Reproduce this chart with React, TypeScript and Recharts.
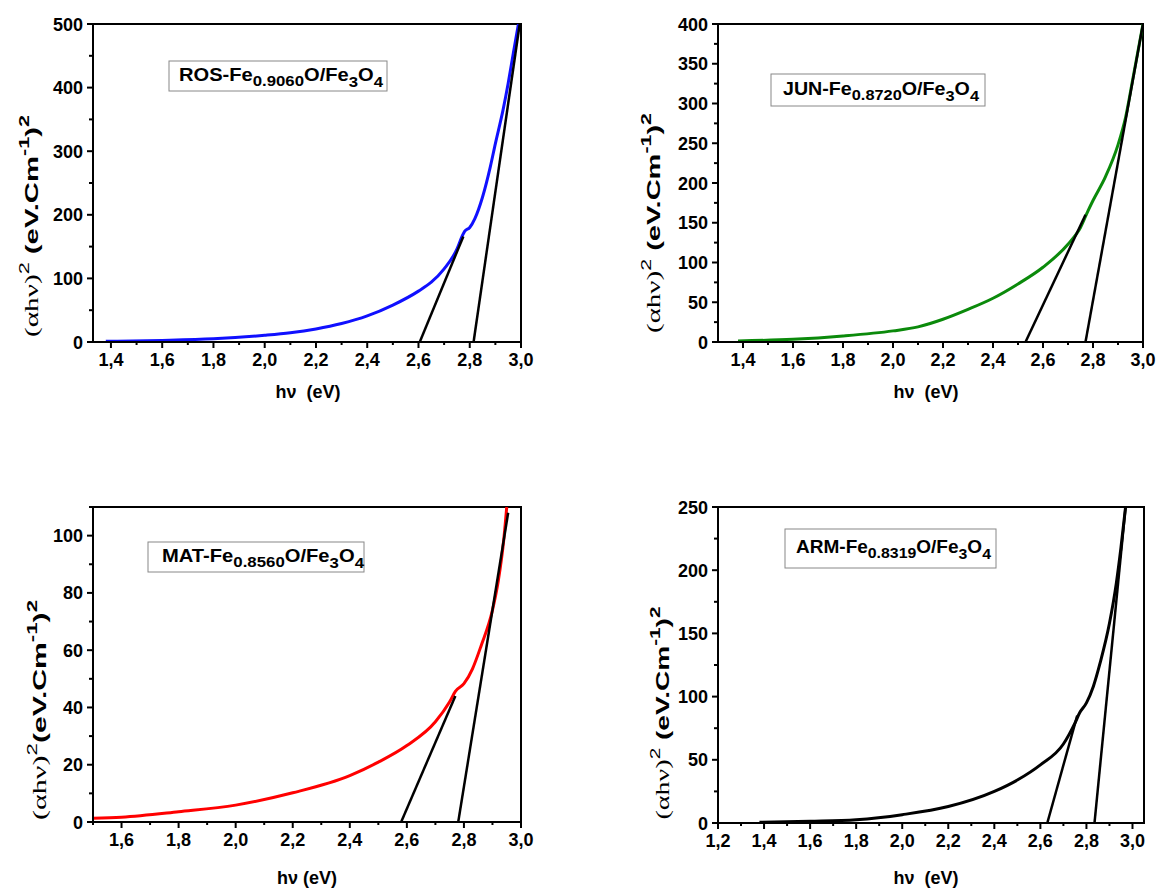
import React from 'react'
import { LineChart, Line, XAxis, YAxis, ReferenceArea } from 'recharts'

// hv (eV) / (alpha h v)^2
const rosX = [1.38, 1.6, 1.8, 2.0, 2.1, 2.2, 2.3, 2.4, 2.5, 2.6, 2.65, 2.7, 2.75, 2.77, 2.78, 2.8, 2.82, 2.85, 2.88, 2.9, 2.93, 2.95, 2.97, 2.99]
const rosY = [1, 2.5, 5, 10.5, 14.5, 20.5, 29, 41, 58, 80, 94, 115, 146, 166, 174, 180, 194, 228, 275, 312, 365, 407, 454, 500]
const rosFitA: [number, number][] = [[2.605, 0], [2.775, 166]]
const rosFitB: [number, number][] = [[2.815, 0], [2.995, 500]]

const junX = [1.38, 1.6, 1.8, 2.0, 2.1, 2.2, 2.3, 2.4, 2.5, 2.6, 2.7, 2.75, 2.78, 2.8, 2.85, 2.9, 2.93, 2.96, 3.0]
const junY = [1.3, 3.4, 7.6, 14, 19, 28.6, 41, 55, 73, 94, 123, 144, 165, 178, 208, 248, 282, 332, 400]
const junFitA: [number, number][] = [[2.53, 0], [2.77, 160]]
const junFitB: [number, number][] = [[2.77, 0], [3.0, 400]]

const matX = [1.5, 1.6, 1.8, 2.0, 2.2, 2.4, 2.5, 2.6, 2.7, 2.75, 2.77, 2.8, 2.83, 2.86, 2.9, 2.92, 2.94, 2.95]
const matY = [1.3, 1.7, 3.6, 5.9, 10.2, 16.2, 20.9, 26.7, 35, 42, 45.6, 48.3, 53.5, 61.5, 74, 84, 99, 110]
const matFitA: [number, number][] = [[2.58, 0], [2.77, 44]]
const matFitB: [number, number][] = [[2.78, 0], [2.955, 108]]

const armX = [1.38, 1.6, 1.8, 2.0, 2.2, 2.4, 2.5, 2.6, 2.7, 2.75, 2.77, 2.8, 2.83, 2.86, 2.9, 2.93, 2.95, 2.97]
const armY = [0.5, 1.3, 2.6, 6.6, 13, 25, 34, 46, 62.5, 79, 87, 95, 108, 127, 158, 190, 218, 250]
const armFitA: [number, number][] = [[2.63, 0], [2.76, 85]]
const armFitB: [number, number][] = [[2.835, 0], [2.97, 250]]

// tick values
const xTicks14 = [1.4, 1.5, 1.6, 1.7, 1.8, 1.9, 2.0, 2.1, 2.2, 2.3, 2.4, 2.5, 2.6, 2.7, 2.8, 2.9, 3.0]
const xTicks15 = [1.5, 1.6, 1.7, 1.8, 1.9, 2.0, 2.1, 2.2, 2.3, 2.4, 2.5, 2.6, 2.7, 2.8, 2.9, 3.0]
const xTicks12 = [1.2, 1.3, 1.4, 1.5, 1.6, 1.7, 1.8, 1.9, 2.0, 2.1, 2.2, 2.3, 2.4, 2.5, 2.6, 2.7, 2.8, 2.9, 3.0]
const rosYTicks = [0, 50, 100, 150, 200, 250, 300, 350, 400, 450, 500]
const junYTicks = [0, 25, 50, 75, 100, 125, 150, 175, 200, 225, 250, 275, 300, 325, 350, 375, 400]
const matYTicks = [0, 10, 20, 30, 40, 50, 60, 70, 80, 90, 100, 110]
const armYTicks = [0, 25, 50, 75, 100, 125, 150, 175, 200, 225, 250]

const FONT = "Arial, 'Liberation Sans', sans-serif"

const pts = (xs: number[], ys: number[]) => xs.map((x, i) => ({ x, y: ys[i] }))
const seg = (p: [number, number][]) => p.map(([x, y]) => ({ x, y }))

const XTick = (props: any) => {
  const { x, y, payload } = props
  const v = payload.value as number
  const major = Math.round(v * 10) % 2 === 0
  return (
    <g>
      <line x1={x} y1={y} x2={x} y2={y + (major ? 6 : 3)} stroke="#000" strokeWidth={2} />
      {major && (
        <text x={x} y={y + 24} textAnchor="middle" fontFamily={FONT} fontWeight="bold" fontSize={18} fill="#000">
          {v.toFixed(1).replace('.', ',')}
        </text>
      )}
    </g>
  )
}

const makeYTick = (step: number) => (props: any) => {
  const { x, y, payload } = props
  const v = payload.value as number
  const major = Math.abs(v % step) < 1e-6
  return (
    <g>
      <line x1={x} y1={y} x2={x - (major ? 6 : 4)} y2={y} stroke="#000" strokeWidth={2} />
      {major && (
        <text x={x - 10} y={y + 6.5} textAnchor="end" fontFamily={FONT} fontWeight="bold" fontSize={18} fill="#000">
          {v}
        </text>
      )}
    </g>
  )
}

type Props = {
  left: number
  top: number
  width: number
  height: number
  margin: { top: number; right: number; bottom: number; left: number }
  yAxisWidth: number
  xDomain: [number, number]
  yDomain: [number, number]
  xTicks: number[]
  yTicks: number[]
  yStep: number
  curve: { x: number; y: number }[]
  fits: { x: number; y: number }[][]
  color: string
  name: string
  sub: string
  box: [number, number, number, number]
  titleX: number
  titleY: number
  titleLen: number
  yLab: [number, number, number]
  yLabSpace: boolean
  xLab: [number, number]
  xLabText: string
}

function Panel(p: Props) {
  const [bx1, by1, bx2, by2] = p.box
  return (
    <div style={{ position: 'absolute', left: p.left, top: p.top, width: p.width, height: p.height }}>
      <LineChart width={p.width} height={p.height} margin={p.margin}>
        <XAxis
          dataKey="x"
          type="number"
          domain={p.xDomain}
          ticks={p.xTicks}
          interval={0}
          allowDataOverflow
          height={30}
          tickSize={0}
          tickMargin={0}
          tickLine={false}
          axisLine={{ stroke: '#000', strokeWidth: 2 }}
          tick={<XTick />}
        />
        <YAxis
          dataKey="y"
          type="number"
          domain={p.yDomain}
          ticks={p.yTicks}
          interval={0}
          allowDataOverflow
          width={p.yAxisWidth}
          tickSize={0}
          tickMargin={0}
          tickLine={false}
          axisLine={{ stroke: '#000', strokeWidth: 2 }}
          tick={makeYTick(p.yStep)}
        />
        <ReferenceArea
          x1={p.xDomain[0]}
          x2={p.xDomain[1]}
          y1={p.yDomain[0]}
          y2={p.yDomain[1]}
          fill="none"
          stroke="#000"
          strokeWidth={2}
          ifOverflow="visible"
        />
        <Line data={p.curve} dataKey="y" type="monotone" stroke={p.color} strokeWidth={3} dot={false} isAnimationActive={false} />
        {p.fits.map((f, i) => (
          <Line key={i} data={f} dataKey="y" type="linear" stroke="#000" strokeWidth={2.5} dot={false} isAnimationActive={false} />
        ))}
      </LineChart>
      <svg width={p.width} height={p.height} style={{ position: 'absolute', left: 0, top: 0, pointerEvents: 'none' }}>
        <rect x={bx1} y={by1} width={bx2 - bx1} height={by2 - by1} fill="#fff" stroke="#888" strokeWidth={1} />
        <text x={p.titleX} y={p.titleY} fontFamily={FONT} fontWeight="bold" fontSize={18} fill="#000" textLength={p.titleLen} lengthAdjust="spacingAndGlyphs">
          <tspan>{p.name}-Fe</tspan>
          <tspan fontSize={15} dy={5}>{p.sub}</tspan>
          <tspan dy={-5}>O/Fe</tspan>
          <tspan fontSize={15} dy={6}>3</tspan>
          <tspan dy={-6}>O</tspan>
          <tspan fontSize={15} dy={6}>4</tspan>
        </text>
        <text
          transform={`translate(${p.yLab[0]}, ${p.yLab[1]}) rotate(-90)`}
          textAnchor="middle"
          fontFamily={FONT}
          fontWeight="bold"
          fontSize={19}
          fill="#000"
          textLength={p.yLab[2]}
          lengthAdjust="spacingAndGlyphs"
        >
          <tspan fontFamily="'Liberation Serif', 'Times New Roman', serif" fontWeight="normal">(αhν)</tspan>
          <tspan fontSize={14} fontWeight="normal" dy={-9}>2</tspan>
          <tspan dy={9}>{p.yLabSpace ? ' (eV.Cm' : '(eV.Cm'}</tspan>
          <tspan fontSize={14} dy={-9}>-1</tspan>
          <tspan dy={9}>)</tspan>
          <tspan fontSize={14} dy={-9}>2</tspan>
        </text>
        <text x={p.xLab[0]} y={p.xLab[1]} textAnchor="middle" fontFamily={FONT} fontWeight="bold" fontSize={18} fill="#000" style={{ whiteSpace: 'pre' }}>
          {p.xLabText}
        </text>
      </svg>
    </div>
  )
}

export default function App() {
  return (
    <div style={{ position: 'absolute', left: 0, top: 0, width: 1159, height: 888, background: '#fff' }}>
      <Panel
        left={0} top={0} width={560} height={420}
        margin={{ top: 24, right: 39, bottom: 48, left: 0 }}
        yAxisWidth={93}
        xDomain={[1.33, 3.0]} yDomain={[0, 500]}
        xTicks={xTicks14} yTicks={rosYTicks} yStep={100}
        curve={pts(rosX, rosY)} fits={[seg(rosFitA), seg(rosFitB)]}
        color="#1010ff" name="ROS" sub="0.9060"
        box={[169, 61, 387, 91]} titleX={179} titleY={81} titleLen={204}
        yLab={[38, 226, 222]} yLabSpace={true}
        xLab={[308, 398]} xLabText={'hν  (eV)'}
      />
      <Panel
        left={590} top={0} width={569} height={420}
        margin={{ top: 24, right: 16, bottom: 48, left: 0 }}
        yAxisWidth={128}
        xDomain={[1.3, 3.0]} yDomain={[0, 400]}
        xTicks={xTicks14} yTicks={junYTicks} yStep={50}
        curve={pts(junX, junY)} fits={[seg(junFitA), seg(junFitB)]}
        color="#0b8a0b" name="JUN" sub="0.8720"
        box={[181, 74, 395, 106]} titleX={193} titleY={95} titleLen={196}
        yLab={[70, 223, 220]} yLabSpace={true}
        xLab={[336, 398]} xLabText={'hν  (eV)'}
      />
      <Panel
        left={0} top={470} width={560} height={418}
        margin={{ top: 37, right: 39, bottom: 36, left: 0 }}
        yAxisWidth={93}
        xDomain={[1.5, 3.0]} yDomain={[0, 110]}
        xTicks={xTicks15} yTicks={matYTicks} yStep={20}
        curve={pts(matX, matY)} fits={[seg(matFitA), seg(matFitB)]}
        color="#ff0000" name="MAT" sub="0.8560"
        box={[148, 72, 364, 102]} titleX={162} titleY={92} titleLen={202}
        yLab={[46, 240, 220]} yLabSpace={false}
        xLab={[307, 414]} xLabText={'hν (eV)'}
      />
      <Panel
        left={590} top={470} width={569} height={418}
        margin={{ top: 37, right: 15, bottom: 35, left: 0 }}
        yAxisWidth={128}
        xDomain={[1.2, 3.05]} yDomain={[0, 250]}
        xTicks={xTicks12} yTicks={armYTicks} yStep={50}
        curve={pts(armX, armY)} fits={[seg(armFitA), seg(armFitB)]}
        color="#000000" name="ARM" sub="0.8319"
        box={[195, 59, 406, 98]} titleX={206} titleY={83} titleLen={195}
        yLab={[79, 243, 213]} yLabSpace={true}
        xLab={[336, 414]} xLabText={'hν  (eV)'}
      />
    </div>
  )
}
